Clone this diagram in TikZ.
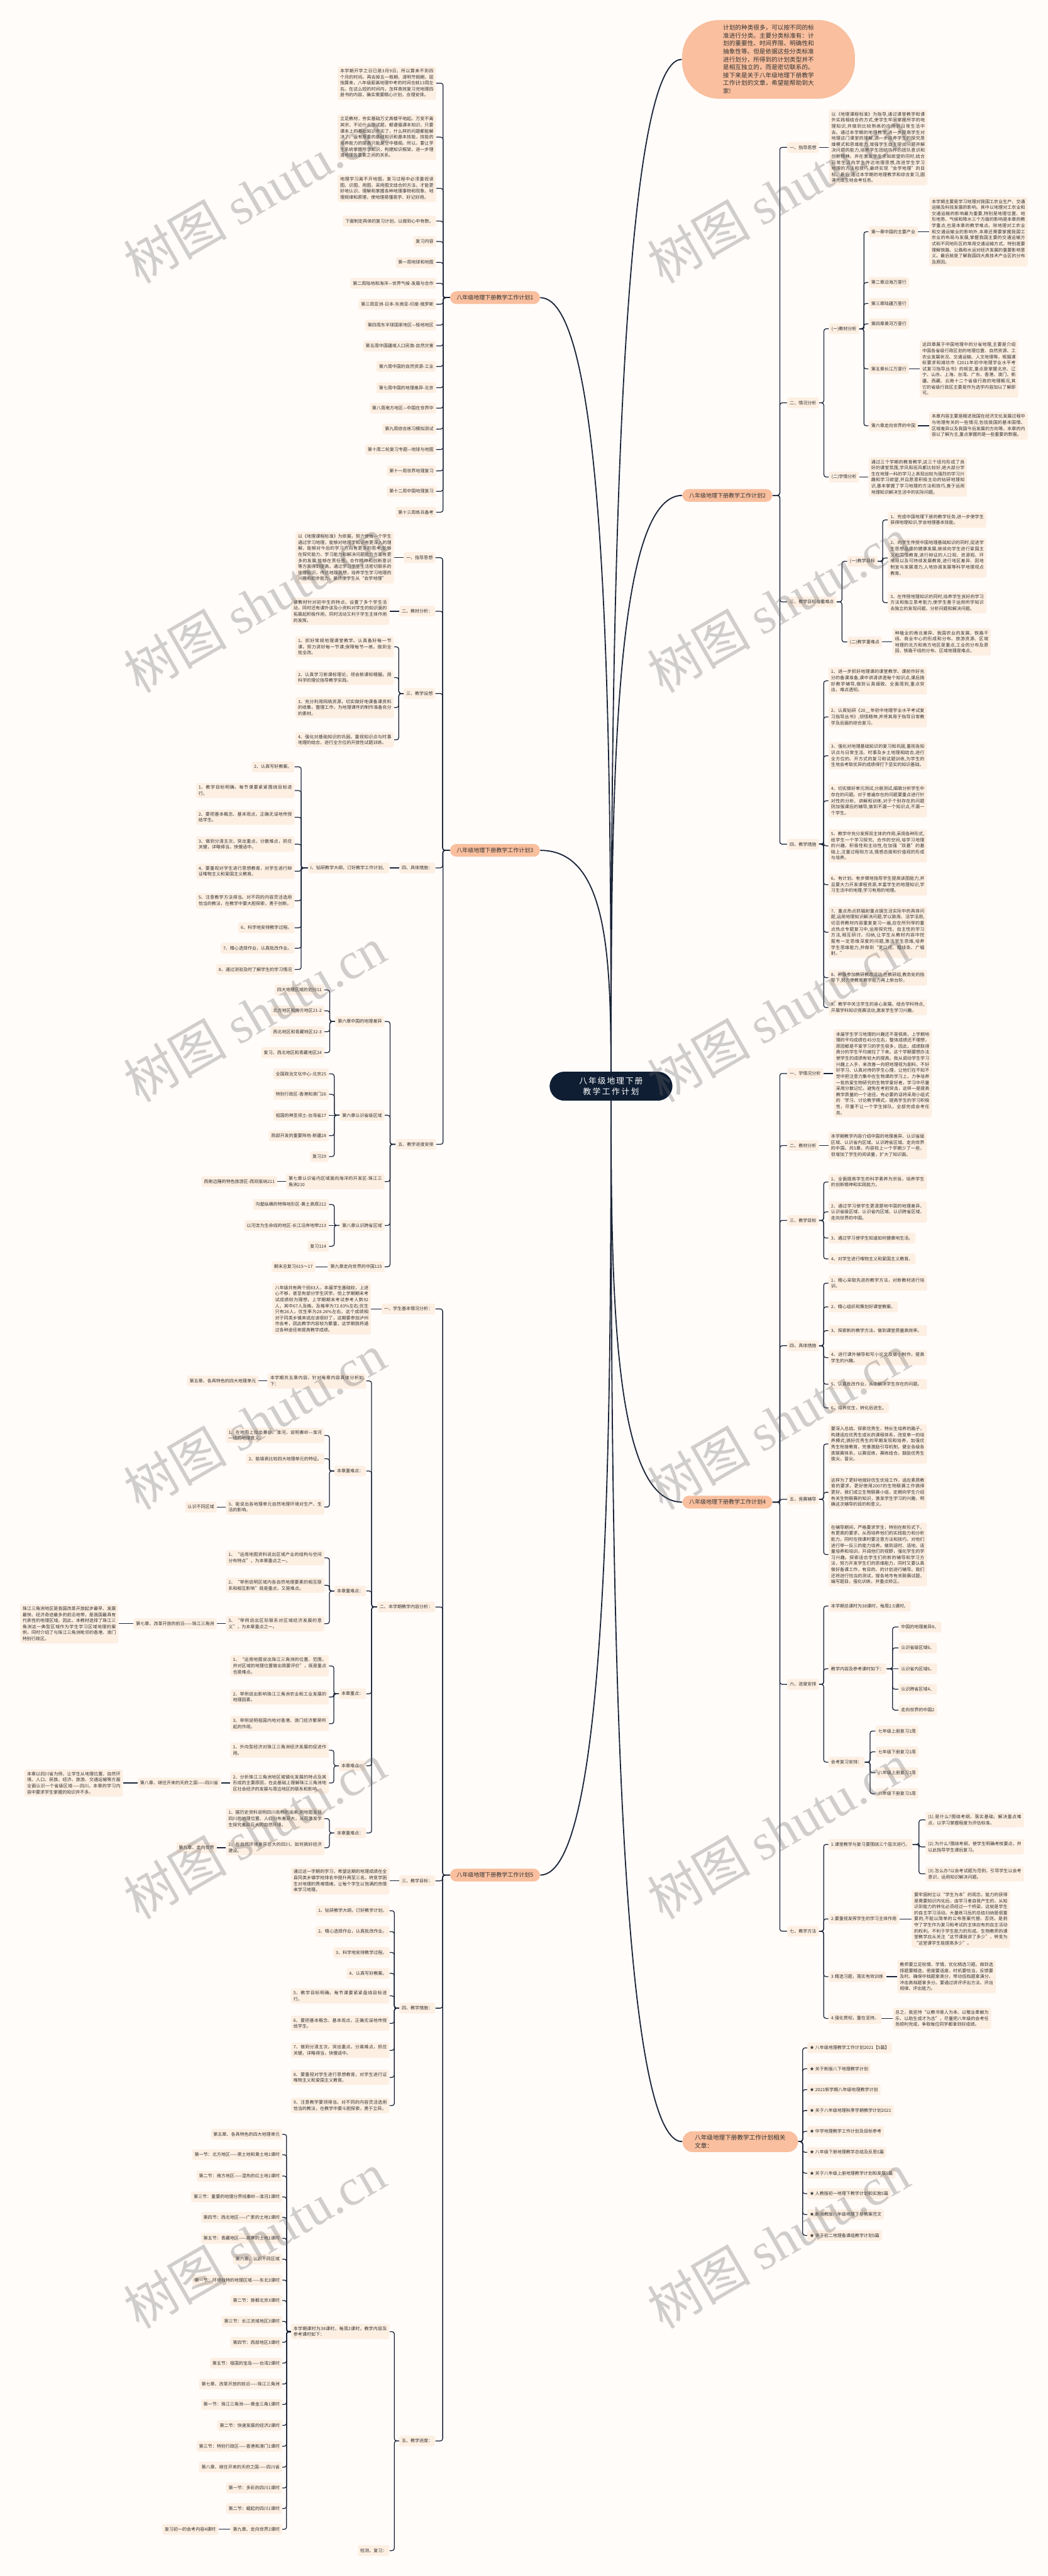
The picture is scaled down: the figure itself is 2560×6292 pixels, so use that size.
\documentclass[tikz,border=0pt]{standalone}
\usepackage{fontspec}
\setmainfont{Noto Sans CJK SC}
\newfontfamily\wmlatin{Liberation Serif}
\usetikzlibrary{calc}
\usetikzlibrary{backgrounds}
\XeTeXlinebreaklocale "zh"
\XeTeXlinebreakskip = 0pt plus 1pt
\definecolor{bgc}{HTML}{FFFCFA}
\definecolor{leafc}{HTML}{FDEFE2}
\definecolor{mainc}{HTML}{F9BF9E}
\definecolor{hubc}{HTML}{0F1E33}
\definecolor{linec}{HTML}{1B2437}
\definecolor{txtc}{HTML}{333333}
\tikzset{
    leaf/.style = {rectangle, rounded corners=1.2pt, fill=leafc, text=txtc, inner xsep=0.06cm, inner ysep=0.06cm, minimum height=0.26cm, font=\fontsize{3.07pt}{4.2pt}\selectfont},
    para/.style = {leaf, text width=2.28cm, align=justify},
    plan/.style = {rectangle, rounded corners=0.15cm, fill=mainc, text=txtc, minimum height=0.31cm, inner xsep=0.16cm, inner ysep=0.06cm, font=\fontsize{3.93pt}{5pt}\selectfont},
    rel/.style = {plan, text width=2.22cm, align=left, inner xsep=0.3cm, inner ysep=0.09cm, rounded corners=0.25cm, font=\fontsize{4.18pt}{5.5pt}\selectfont},
    hub/.style = {rectangle, rounded corners=0.36cm, fill=hubc, text=white, text width=2.2cm, align=center, inner xsep=0.4cm, inner ysep=0.13cm, font=\fontsize{5.6pt}{7.54pt}\selectfont},
    intro/.style = {rectangle, rounded corners=0.9cm, fill=mainc, text=txtc, text width=2.22cm, align=justify, minimum width=4.22cm, minimum height=1.92cm, font=\fontsize{4.18pt}{5.49pt}\selectfont},
    link/.style = {draw=linec, line width=0.55pt, rounded corners=1.6pt},
    trunk/.style = {draw=linec, line width=0.8pt},
    wmark/.style = {rotate=30, anchor=south west, inner sep=0pt, text=black!60, text opacity=0.3, font=\fontsize{36pt}{36pt}\selectfont}
}
\newcommand{\linkR}[2]{\draw[link] (#1.east) -| ($(#1.east)!.5!(#2.west)$) |- (#2.west);}
\newcommand{\linkL}[2]{\draw[link] (#1.west) -| ($(#1.west)!.5!(#2.east)$) |- (#2.east);}
\newcommand{\linkRS}[2]{\draw[link] (#1.east) -- (#2.west);}
\newcommand{\linkLS}[2]{\draw[link] (#1.west) -- (#2.east);}

\begin{document}
\begin{tikzpicture}[x=0.01cm, y=-0.01cm]
\useasboundingbox (0,0) rectangle (2560,6292);
\node[hub] at (1493, 2653) (ctr) {八年级地理下册教学工作计划};
\node[intro, anchor=west] at (1666, 145) (intro) {计划的种类很多，可以按不同的标准进行分类。主要分类标准有：计划的重要性、时间界限、明确性和抽象性等。但是依据这些分类标准进行划分，所得到的计划类型并不是相互独立的，而是密切联系的。接下来是关于八年级地理下册教学工作计划的文章，希望能帮助到大家!};
\node[plan, anchor=east] at (1320, 727) (p1) {八年级地理下册教学工作计划1};
\node[plan, anchor=west] at (1667, 1210) (p2) {八年级地理下册教学工作计划2};
\node[plan, anchor=east] at (1320, 2077) (p3) {八年级地理下册教学工作计划3};
\node[plan, anchor=west] at (1667, 3669) (p4) {八年级地理下册教学工作计划4};
\node[plan, anchor=east] at (1320, 4580) (p5) {八年级地理下册教学工作计划5};
\node[rel, anchor=west] at (1667, 5231) (rel) {八年级地理下册教学工作计划相关文章：};
%
% plan 1
\node[para, anchor=east] at (1066, 203) (p1a) {本学期开学之日已是3月9日，所以算来不到四个月的时间。再去掉五一假期、清明节假期，屈指算来，八年级距离地理中考的时间也就13周左右。在这么短的时间内，怎样高效复习完地理四册书的内容，确实需要精心计划，合理安排。};
\node[para, anchor=east] at (1066, 335) (p1b) {立足教材，夯实基础万丈高楼平地起。万变不离其宗，不论什么测试题，都遵循课本知识，只要课本上的基础知识夯实了，什么样的问题都能解决了。没有厚重的基础知识和基本技能，技能的培养能力的提高只能是空中楼阁。所以，要让学生系统掌握所学知识，构建知识框架，进一步理清地理各要素之间的关系。};
\node[para, anchor=east] at (1066, 460) (p1c) {地理学习离不开地图，复习过程中必须重视读图、识图、用图，采用图文结合的方法，才能更好地认识、理解和掌握各种地理事物和现象、地理规律和原理，使地理易懂易学、好记好用。};
\node[leaf, anchor=east] at (1066, 540) (p1d) {下面制定具体的复习计划，以做到心中有数。};
\node[leaf, anchor=east] at (1066, 590) (p1e) {复习内容};
\node[leaf, anchor=east] at (1066, 641) (p1f) {第一周地球和地图};
\node[leaf, anchor=east] at (1066, 692) (p1g) {第二周陆地和海洋—世界气候-发展与合作};
\node[leaf, anchor=east] at (1066, 743) (p1h) {第三周亚洲-日本-东南亚-印度-俄罗斯};
\node[leaf, anchor=east] at (1066, 794) (p1i) {第四周东半球国家地区—极地地区};
\node[leaf, anchor=east] at (1066, 845) (p1j) {第五周中国疆域人口民族-自然灾害};
\node[leaf, anchor=east] at (1066, 895) (p1k) {第六周中国的自然资源-工业};
\node[leaf, anchor=east] at (1066, 947) (p1l) {第七周中国的地理差异-北京};
\node[leaf, anchor=east] at (1066, 997) (p1m) {第八周南方地区—中国在世界中};
\node[leaf, anchor=east] at (1066, 1048) (p1n) {第九周综合练习模拟测试};
\node[leaf, anchor=east] at (1066, 1098) (p1o) {第十周二轮复习专题—地球与地图};
\node[leaf, anchor=east] at (1066, 1150) (p1p) {第十一周世界地理复习};
\node[leaf, anchor=east] at (1066, 1200) (p1q) {第十二周中国地理复习};
\node[leaf, anchor=east] at (1066, 1251) (p1r) {第十三周练兵备考};
%
% plan 2
\node[leaf, anchor=west] at (1923, 360) (p2a) {一、指导思想};
\node[para, anchor=west] at (2025, 360) (p2a1) {以《地理课程标准》为指导,通过课堂教学和课外实践相结合的方式,使学生牢固掌握所学的地理知识,并做到比较熟练的应用到日常生活中去。通过本学期的地理教学,进一步提高学生对地理这门课堂的理解,进一步培养学生的探究思维模式和思维能力,增强学生自主提出问题并解决问题的能力,培养学生团结协作的团队意识和创新精神。并在激发学生求知欲望的同时,结合日常生活向学生传达地理思想,改进学生学习地理的方法和技巧,最终实现“会学地理”的目标。最后,通过本学期的地理教学和综合复习,圆满完成生地会考任务。};
\node[leaf, anchor=west] at (1923, 984) (p2b) {二、情况分析};
\node[leaf, anchor=west] at (2025, 803) (p2b1) {(一)教材分析};
\node[leaf, anchor=west] at (2122, 566) (p2b1a) {第一章中国的主要产业};
\node[para, anchor=west] at (2270, 566) (p2b1a1) {本学期主要是学习地理对我国工农业生产、交通运输及科技发展的影响。其中以地理对工农业和交通运输的影响最为重要,特别是地理位置、地形地势、气候和降水三个方面的影响是本章的教学重点,也是本章的教学难点。除地理对工农业和交通运输业的影响外,本章还需要掌握我国工农业的布局与发展,掌握我国主要的交通运输方式和不同地形区的常用交通运输方式。特别是要理解铁路、公路和水运对经济发展的重要影响意义。最后就是了解我国四大高技术产业区的分布及原因。};
\node[leaf, anchor=west] at (2122, 690) (p2b1b) {第二章沿海万里行};
\node[leaf, anchor=west] at (2122, 741) (p2b1c) {第三章陆疆万里行};
\node[leaf, anchor=west] at (2122, 791) (p2b1d) {第四章黄河万里行};
\node[leaf, anchor=west] at (2122, 901) (p2b1e) {第五章长江万里行};
\node[para, anchor=west] at (2247, 901) (p2b1e1) {这四章属于中国地理中的分省地理,主要是介绍中国各省级行政区划的地理位置、自然资源、工农业发展状况、交通运输、人文地理等。根据课标要求和潍坊市《2011年初中地理学业水平考试复习指导丛书》的规定,重点是掌握北京、辽宁、山东、上海、台湾、广东、香港、澳门、新疆、西藏、云南十二个省级行政的地理概况,其它的省级行政区主要是作为选学内容加以了解即可。};
\node[leaf, anchor=west] at (2122, 1040) (p2b1f) {第六章走向世界的中国};
\node[para, anchor=west] at (2270, 1040) (p2b1f1) {本章内容主要是概述我国在经济文化发展过程中与地理有关的一些情况,包括我国的基本国情、区域差异以及我国今后发展的方向等。本章的内容以了解为主,重点掌握的是一些重要的数据。};
\node[leaf, anchor=west] at (2025, 1165) (p2b2) {(二)学情分析};
\node[para, anchor=west] at (2122, 1165) (p2b21) {通过三个学期的教育教学,这三个班均形成了良好的课堂氛围,学风和班风都比较好,绝大部分学生在地理一科的学习上表现出较为强烈的学习兴趣和学习欲望,并且愿意积极主动的钻研地理知识,基本掌握了学习地理的方法和技巧,善于运用地理知识解决生活中的实际问题。};
\node[leaf, anchor=west] at (1923, 1470) (p2c) {三、教学目标与重难点};
\node[leaf, anchor=west] at (2070, 1371) (p2c1) {(一)教学目标};
\node[para, anchor=west] at (2169, 1270) (p2c1a) {1、完成中国地理下册的教学任务,进一步使学生获得地理知识,学会地理基本技能。};
\node[para, anchor=west] at (2169, 1363) (p2c1b) {2、向学生传授中国地理基础知识的同时,促进学生思想品德的健康发展,继续向学生进行爱国主义和国情教育,进行辩证的人口观、资源观、环境观以及可持续发展教育,进行地区差异、因地制宜与发展潜力,人地协调发展等科学地理观点教育。};
\node[para, anchor=west] at (2169, 1472) (p2c1c) {3、在传授地理知识的同时,培养学生良好的学习方法和独立思考能力,使学生善于运用所学知识去独立的发现问题、分析问题和解决问题。};
\node[leaf, anchor=west] at (2070, 1568) (p2c2) {(二)教学重难点};
\node[para, anchor=west] at (2180, 1568) (p2c21) {种植业的南北差异、我国农业的发展、铁路干线、商业中心的形成和分布、旅游资源、区域地理的北方和南方地区是重点,工业的分布及原因、铁路干线的分布、区域地理是难点。};
\node[leaf, anchor=west] at (1923, 2062) (p2d) {四、教学措施};
\node[para, anchor=west] at (2024, 1663) (p2d1) {1、进一步抓好地理课的课堂教学。课前作好充分的备课准备,课中讲清讲透每个知识点,课后搞好教学辅导,做到认真细致、全面周到,重点突出、难点透彻。};
\node[para, anchor=west] at (2024, 1751) (p2d2) {2、认真钻研《20\_\_年初中地理学业水平考试复习指导丛书》,领悟精神,并将其用于指导日常教学及后面的综合复习。};
\node[para, anchor=west] at (2024, 1846) (p2d3) {3、强化对地理基础知识的复习和巩固,重视各知识点与日常生活、时事及乡土地理相结合,进行全方位的、开方式的复习和试题训练,为学生的生地会考取优异的成绩得打下坚实的知识基础。};
\node[para, anchor=west] at (2024, 1956) (p2d4) {4、切实搞好单元测试,分册测试,细致分析学生中存在的问题。对于普遍存在的问题要重点进行针对性的分析、讲解和训练,对于个别存在的问题则加强课后的辅导,做到不漏一个知识点,不漏一个学生。};
\node[para, anchor=west] at (2024, 2066) (p2d5) {5、教学中充分发挥双主体的作用,采用各种形式,给学生一个学习探究、合作的空间,培学习地理的兴趣、积极性和主动性,在加强“双基”的基础上,注重过程和方法,情感态度和价值观的形成与培养。};
\node[para, anchor=west] at (2024, 2161) (p2d6) {6、有计划、有步骤地指导学生提高读图能力,并且要大力开发课程资源,丰富学生的地理知识,学习生活中的地理,学习有用的地理。};
\node[para, anchor=west] at (2024, 2277) (p2d7) {7、重点热点抓辐射重点据生活实际中的具体问题,运用地理知识解决问题,学以致用、活学活用,切忌将教材内容重复复习一遍,应在所列举的重点热点专题复习中,运用探究性、自主性的学习方法,相互研讨、归纳,让学生从教材内容中挖掘有一定思维深度的问题,激活学生思维,培养学生思维能力,并做到“宽口径、粗线条、广辐射。”};
\node[para, anchor=west] at (2024, 2388) (p2d8) {8、积极参加教研教改活动,在教研组,教务处的指导下,努力使教育教学能力再上新台阶。};
\node[para, anchor=west] at (2024, 2461) (p2d9) {9、教学中关注学生的身心发展。结合学科特点,开展学科知识竞赛活动,激发学生学习兴趣。};
%
% plan 3
\node[leaf, anchor=east] at (1064, 1362) (p3a) {一、指导思想};
\node[para, anchor=east] at (963, 1362) (p3a1) {以《地理课程标准》为依据，努力使每一个学生通过学习地理，能够对地理学知识有更深入的理解，能够对今后的学习方向有更多的思考;能够在探究能力、学习能力和解决问题能力方面有更多的发展;能够在责任感、合作精神和创新意识等方面得到提高。通过学习学生生活密切联系的地理知识，传达地理思想，培养学生学习地理的兴趣和初步能力，最终使学生从“会学地理”};
\node[leaf, anchor=east] at (1064, 1493) (p3b) {二、教材分析：};
\node[para, anchor=east] at (952, 1493) (p3b1) {该教材针对初中生的特点，设置了多个学生活动，同时还有课外读及小资料对学生的知识面的拓展起积极作用，同时活动又利于学生主体作用的发挥。};
\node[leaf, anchor=east] at (1064, 1694) (p3c) {三、教学设想};
\node[para, anchor=east] at (963, 1580) (p3c1) {1、抓好常规地理课堂教学。认真备好每一节课，努力讲好每一节课;保障每节一练，做到全批全改。};
\node[para, anchor=east] at (963, 1655) (p3c2) {2、认真学习新课标理论，领会新课标精髓，用科学的理论指导教学实践。};
\node[para, anchor=east] at (963, 1728) (p3c3) {3、充分利用网络资源，切实做好地课备课资料的收集，整理工作，为地理课件的制作准备充分的素材。};
\node[para, anchor=east] at (963, 1807) (p3c4) {4、强化对基础知识的巩固，重视知识点与时事地理的结合，进行全方位的开放性试题训练。};
\node[leaf, anchor=east] at (1064, 2120) (p3d) {四、具体措施：};
\node[leaf, anchor=east] at (952, 2120) (p3d1) {I、钻研教学大纲，订好教学工作计划。};
\node[leaf, anchor=east] at (720, 1873) (p3d1a) {2、认真写好教案。};
\node[para, anchor=east] at (720, 1931) (p3d1b) {1、教学目标明确，每节课要紧紧围绕目标进行。};
\node[para, anchor=east] at (720, 1996) (p3d1c) {2、要把基本概念、基本观点，正确无误地传授给学生。};
\node[para, anchor=east] at (720, 2062) (p3d1d) {3、做到分清主次，突出重点，分散难点，抓住关键，详略得当，快慢适中。};
\node[para, anchor=east] at (720, 2128) (p3d1e) {4、要重视对学生进行思想教育，对学生进行辩证唯物主义和爱国主义教育。};
\node[para, anchor=east] at (720, 2200) (p3d1f) {5、注意教学方法得当。对不同的内容灵活选用恰当的教法，在教学中要大胆探索，勇于创新。};
\node[leaf, anchor=east] at (720, 2266) (p3d1g) {6、科学地安排教学过程。};
\node[leaf, anchor=east] at (720, 2316) (p3d1h) {7、精心选择作业，认真批改作业。};
\node[leaf, anchor=east] at (720, 2368) (p3d1i) {8、通过测验及时了解学生的学习情况};
\node[leaf, anchor=east] at (1066, 2795) (p3e) {五、教学进度安排};
\node[leaf, anchor=east] at (940, 2495) (p3e1) {第六章中国的地理差异};
\node[leaf, anchor=east] at (793, 2418) (p3e1a) {四大地理区域的划分11};
\node[leaf, anchor=east] at (793, 2469) (p3e1b) {北方地区和南方地区21-2};
\node[leaf, anchor=east] at (793, 2520) (p3e1c) {西北地区和青藏地区32-3};
\node[leaf, anchor=east] at (793, 2571) (p3e1d) {复习、西北地区和青藏地区24};
\node[leaf, anchor=east] at (940, 2724) (p3e2) {第六章认识省级区域};
\node[leaf, anchor=east] at (804, 2623) (p3e2a) {全国政治文化中心-北京25};
\node[leaf, anchor=east] at (804, 2673) (p3e2b) {特别行政区-香港和澳门26};
\node[leaf, anchor=east] at (804, 2724) (p3e2c) {祖国的神圣领土-台湾省27};
\node[leaf, anchor=east] at (804, 2774) (p3e2d) {西部开发的重要阵地-新疆28};
\node[leaf, anchor=east] at (804, 2825) (p3e2e) {复习29};
\node[para, anchor=east] at (940, 2886) (p3e3) {第七章认识省内区域面向海洋的开发区-珠江三角洲210};
\node[leaf, anchor=east] at (678, 2886) (p3e3a) {西南边陲的特色旅游区-西双版纳211};
\node[leaf, anchor=east] at (940, 2993) (p3e4) {第八章认识跨省区域};
\node[leaf, anchor=east] at (804, 2942) (p3e4a) {沟壑纵横的特殊地形区-黄土高原212};
\node[leaf, anchor=east] at (804, 2993) (p3e4b) {以河流为生命线的地区-长江沿岸地带213};
\node[leaf, anchor=east] at (804, 3044) (p3e4c) {复习114};
\node[leaf, anchor=east] at (940, 3094) (p3e5) {第九章走向世界的中国115};
\node[leaf, anchor=east] at (771, 3094) (p3e5a) {期末总复习615～17};
%
% plan 4
\node[leaf, anchor=west] at (1923, 2622) (p4a) {一、学情况分析};
\node[para, anchor=west] at (2036, 2622) (p4a1) {本届学生学习地理的兴趣还不是很高，上学期地理的平均成绩在45分左右，整体成绩还不理想，原因都是不爱学习的学生很多，因此，成绩取得高分的学生平均被拉了下来。这个学期要想办法使学生的成绩有较大的提高。我从调动学生学习兴趣上入手，来改善一向把地理视为副科，不好好学习、认真对待的学生心理，让他们在不知不觉中把注意力集中在生物课的学习上，力争培养一批热爱生物研究的生物学爱好者，学习中尽量采用分散记忆，避免在考前突击，这样一是提高教学质量的一个途径。有必要的话将采用小组式的‘学习、讨论教学模式，提高学生的学习积极性，尽量不让一个学生掉队，全部完成会考任务。};
\node[leaf, anchor=west] at (1923, 2798) (p4b) {二、教材分析};
\node[para, anchor=west] at (2024, 2798) (p4b1) {本学期教学内容介绍中国的地理差异、认识省级区域、认识省内区域、认识跨省区域、走向世界的中国。共5章，内容较上一个学期少了一些，但增加了学生的阅读量，扩大了知识面。};
\node[leaf, anchor=west] at (1923, 2981) (p4c) {三、教学目标};
\node[para, anchor=west] at (2024, 2887) (p4c1) {1、全面提高学生的科学素养为宗旨，培养学生的创新精神和实践能力。};
\node[para, anchor=west] at (2024, 2960) (p4c2) {2、通过学习使学生更清楚地中国的地理差异、认识省级区域、认识省内区域、认识跨省区域、走向世界的中国。};
\node[leaf, anchor=west] at (2024, 3024) (p4c3) {3、通过学习使学生知道如何健康地生活。};
\node[leaf, anchor=west] at (2024, 3075) (p4c4) {4、对学生进行唯物主义和爱国主义教育。};
\node[leaf, anchor=west] at (1923, 3287) (p4d) {四、具体措施};
\node[para, anchor=west] at (2024, 3134) (p4d1) {1、精心采取先进的教学方法，对新教材进行培训。};
\node[leaf, anchor=west] at (2024, 3192) (p4d2) {2、精心组织和策划好课堂教案。};
\node[para, anchor=west] at (2024, 3250) (p4d3) {3、探索新的教学方法，做到课堂质量高效率。};
\node[para, anchor=west] at (2024, 3316) (p4d4) {4、进行课外辅导和写小论文及做小制作，提高学生的兴趣。};
\node[para, anchor=west] at (2024, 3381) (p4d5) {5、认真批改作业，从中解决学生存在的问题。};
\node[leaf, anchor=west] at (2024, 3439) (p4d6) {6、培养优生，转化后进生。};
\node[leaf, anchor=west] at (1923, 3662) (p4e) {五、竞赛辅导};
\node[para, anchor=west] at (2024, 3527) (p4e1) {要深入总结、探索优秀生、特长生培养的路子，构建适应优秀生成长的课程体系，改变单一的培养模式;搞好优秀生的早期发现和培养，加强优秀生衔接教育，完善激励引导机制，健全各级各类联赛体系，以赛促练，赛练结合，鼓励优秀生拔尖、冒尖。};
\node[para, anchor=west] at (2024, 3645) (p4e2) {这样为了更好地做好优生优培工作，适应素质教育的要求，更好使用2007的生物联赛工作搞得更好。我们成立生物联赛小组，定期向学生介绍有关生物联赛的知识，激发学生学习的兴趣，明确这次辅导的目的和意义。};
\node[para, anchor=west] at (2024, 3797) (p4e3) {在辅导期间，严格要求学生，特别在新形式下，有更高的要求，从而培养他们的实践能力和分析能力。同时在授课时要注意方法和技巧，对他们进行举一反三的能力培养。做到适时、适地、适量培养和培训，开阔他们的视野，强化学生的学习兴趣。探索适合学生们的新的辅导和学习方法，努力开发学生们的思维能力，同时又要认真做好备课工作，有目的、的计划进行辅导。我们还将进行恰当的测试，搜各地市有关联赛试题，编写题目，强化训练，并重点矫正。};
\node[leaf, anchor=west] at (1923, 4114) (p4f) {六、进度安排};
\node[leaf, anchor=west] at (2024, 3923) (p4f1) {本学期总课时为38课时，每周2.5课时。};
\node[leaf, anchor=west] at (2024, 4076) (p4f2) {教学内容及参考课时如下：};
\node[leaf, anchor=west] at (2195, 3974) (p4f2a) {中国的地理差异8、};
\node[leaf, anchor=west] at (2195, 4025) (p4f2b) {认识省级区域6、};
\node[leaf, anchor=west] at (2195, 4076) (p4f2c) {认识省内区域6、};
\node[leaf, anchor=west] at (2195, 4126) (p4f2d) {认识跨省区域4、};
\node[leaf, anchor=west] at (2195, 4177) (p4f2e) {走向世界的中国2};
\node[leaf, anchor=west] at (2024, 4304) (p4f3) {会考复习安排：};
\node[leaf, anchor=west] at (2139, 4228) (p4f3a) {七年级上册复习1周};
\node[leaf, anchor=west] at (2139, 4279) (p4f3b) {七年级下册复习1周};
\node[leaf, anchor=west] at (2139, 4330) (p4f3c) {八年级上册复习1周};
\node[leaf, anchor=west] at (2139, 4381) (p4f3d) {八年级下册复习1周};
\node[leaf, anchor=west] at (1923, 4717) (p4g) {七、教学方法};
\node[leaf, anchor=west] at (2024, 4505) (p4g1) {1.课堂教学与复习要围绕三个层次进行。};
\node[para, anchor=west] at (2261, 4445) (p4g1a) {(1).是什么?围绕考纲，落实基础，解决重点难点，以学习掌握程度为评估标准。};
\node[para, anchor=west] at (2261, 4511) (p4g1b) {(2).为什么?围绕考纲，使学生明确考核要点，并以此指导学生课后复习。};
\node[para, anchor=west] at (2261, 4577) (p4g1c) {(3).怎么办?以会考试题为范例，引导学生以会考意识，运用知识解决问题。};
\node[leaf, anchor=west] at (2024, 4687) (p4g2) {2.要重视发挥学生的学习主体作用};
\node[para, anchor=west] at (2227, 4687) (p4g21) {要牢固树立以“学生为本”的观念，能力的获得是需要知识内化后，由学习者自我产生的，从知识到能力的转化必须经过一个桥梁，这就是学生的自主学习活动。大量练习后的总结归纳是很重要的,不能以简单的公布答案代替。否则，是剥夺了学生作为复习和考试的主体应有的自主活动的权利。不利于学生能力的形成。生物教师的课堂教学应从关注“这节课我讲了多少”，转变为“这堂课学生能提高多少”。};
\node[leaf, anchor=west] at (2024, 4828) (p4g3) {3.精选习题，落实有效训练};
\node[para, anchor=west] at (2192, 4828) (p4g31) {教师要立足校情、学情，优化精选习题。做到选择题要精选，密度要适度，时机要恰当，反馈要及时。确保中档题拿高分，带动低档题拿满分，冲击高档题拿多分。要通过讲评评出方法、评出规律、评出能力。};
\node[leaf, anchor=west] at (2024, 4930) (p4g4) {4.强化贯彻，重在坚持。};
\node[para, anchor=west] at (2181, 4930) (p4g41) {总之，我坚持“以教书育人为本、以敬业奉献为乐、以助生成才为志”，尽量把八年级的会考任务顺利完成，争取每位同学都拿到好成绩。};
%
% plan 5
\node[leaf, anchor=east] at (1064, 3197) (p5a) {一、学生基本情况分析：};
\node[para, anchor=east] at (907, 3197) (p5a1) {八年级共有两个班83人，本届学生基础较，上进心不够，甚至有部分学生厌学。但上学期期末考试成绩较为理想，上学期期末考试参考人数92人，其中67人及格，及格率为72.83\%左右;优生只有26人，优生率为28.26\%左右，这个成绩相对于同类乡镇来说应该很好了，这期要参加泸州市会考，因此教学内容较为繁重，这学期我将通过各种途径来提高教学成绩。};
\node[leaf, anchor=east] at (1064, 3925) (p5b) {二、本学期教学内容分析：};
\node[para, anchor=east] at (895, 3373) (p5b1) {本学期共五章内容，针对每章内容具体分析如下：};
\node[leaf, anchor=east] at (632, 3373) (p5b1a) {第五章、各具特色的四大地理单元};
\node[leaf, anchor=east] at (895, 3593) (p5b2) {本章重难点：};
\node[para, anchor=east] at (793, 3506) (p5b2a) {1、在地图上找出秦岭、淮河，说明秦岭—淮河一线的地理意义。};
\node[leaf, anchor=east] at (793, 3563) (p5b2b) {2、能填表比较四大地理单元的特征。};
\node[para, anchor=east] at (793, 3681) (p5b2c) {3、能说出各地理单元自然地理环境对生产、生活的影响。};
\node[leaf, anchor=east] at (530, 3681) (p5b2c1) {认识不同区域};
\node[leaf, anchor=east] at (895, 3886) (p5b3) {本章重难点：};
\node[para, anchor=east] at (793, 3805) (p5b3a) {1、“运用地图资料说出区域产业的结构与空间分布特点”，为本章重点之一。};
\node[para, anchor=east] at (793, 3872) (p5b3b) {2、“举例说明区域内各自然地理要素的相互联系和相互影响”既是重点，又是难点。};
\node[para, anchor=east] at (793, 3966) (p5b3c) {3、“举例说出区际联系对区域经济发展的意义”，为本章重点之一。};
\node[leaf, anchor=east] at (530, 3966) (p5b3c1) {第七章、改革开放的前沿——珠江三角洲};
\node[para, anchor=east] at (290, 3966) (p5b3c1a) {珠江三角洲地区是我国改革开放起步最早、发展最快、经济奇迹最多的前沿地带，是我国最具有代表性的地理区域。因此，本教材选择了珠江三角洲这一典型区域作为学生学习区域地理的案例，同时介绍了与珠江三角洲毗邻的香港、澳门特别行政区。};
\node[leaf, anchor=east] at (895, 4137) (p5b4) {本章重点：};
\node[para, anchor=east] at (804, 4069) (p5b4a) {1、“运用地图说出珠江三角洲的位置、范围，并对区域的地理位置做出简要评价”，既是重点也是难点。};
\node[para, anchor=east] at (804, 4145) (p5b4b) {2、举例说出影响珠江三角洲农业和工业发展的地理因素。};
\node[para, anchor=east] at (804, 4210) (p5b4c) {3、举例说明祖国内地对香港、澳门经济繁荣所起的作用。};
\node[leaf, anchor=east] at (895, 4313) (p5b5) {本章难点：};
\node[para, anchor=east] at (804, 4275) (p5b5a) {1、外向型经济对珠江三角洲经济发展的促进作用。};
\node[para, anchor=east] at (804, 4355) (p5b5b) {2、分析珠江三角洲地区城镇化发展的特点及其形成的主要原因，在此基础上理解珠江三角洲地区社会经济的发展与周边地区的联系和影响。};
\node[leaf, anchor=east] at (540, 4355) (p5b5b1) {第八章、继往开来的天府之国——四川省};
\node[para, anchor=east] at (301, 4355) (p5b5b1a) {本章以四川省为例，让学生从地理位置、自然环境、人口、民族、经济、旅游、交通运输等方面全面认识一个省级区域——四川。本章的学习内容中要求学生掌握的知识并不多。};
\node[leaf, anchor=east] at (895, 4477) (p5b6) {本章重难点：};
\node[para, anchor=east] at (793, 4442) (p5b6a) {1、据历史资料说明四川名称的由来;用地图呈现四川的地理位置、人口分布差异大，从而激发学生探究差异巨大的自然环境。};
\node[para, anchor=east] at (793, 4513) (p5b6b) {2、在自然环境差异巨大的四川，如何搞好经济建设。};
\node[leaf, anchor=east] at (530, 4513) (p5b6b1) {第九章、走向世界};
\node[leaf, anchor=east] at (1064, 4594) (p5c) {三、教学目标：};
\node[para, anchor=east] at (952, 4594) (p5c1) {通过这一学期的学习，希望这期的地理成绩在全县同类乡镇学校排名中提升两至三名。转变学困生对地理的畏难情绪，让每个学生以饱满的热情来学习地理。};
\node[leaf, anchor=east] at (1064, 4905) (p5d) {四、教学措施：};
\node[leaf, anchor=east] at (952, 4667) (p5d1) {1、钻研教学大纲，订好教学计划。};
\node[leaf, anchor=east] at (952, 4718) (p5d2) {2、精心选择作业，认真批改作业。};
\node[leaf, anchor=east] at (952, 4769) (p5d3) {3、科学地安排教学过程。};
\node[leaf, anchor=east] at (952, 4820) (p5d4) {4、认真写好教案。};
\node[para, anchor=east] at (952, 4875) (p5d5) {5、教学目标明确，每节课要紧紧盘绕目标进行。};
\node[para, anchor=east] at (952, 4942) (p5d6) {6、要把基本概念、基本观点，正确无误地传授给学生。};
\node[para, anchor=east] at (952, 5008) (p5d7) {7、做到分清主次，突出重点，分离难点，抓住关键，详略得当，快慢适中。};
\node[para, anchor=east] at (952, 5074) (p5d8) {8、要重视对学生进行思想教育，对学生进行证唯物主义和爱国主义教育。};
\node[para, anchor=east] at (952, 5143) (p5d9) {9、注意教学要领得当。对不同的内容灵活选用恰当的教法，在教学中要斗胆探索，勇于立异。};
\node[leaf, anchor=east] at (1064, 5962) (p5e) {五、教学进度：};
\node[para, anchor=east] at (952, 5695) (p5e1) {本学期课时为38课时，每周2课时，教学内容及参考课时如下：};
\node[leaf, anchor=east] at (690, 5213) (p5e1a) {第五章、各具特色的四大地理单元};
\node[leaf, anchor=east] at (690, 5263) (p5e1b) {第一节：北方地区——黑土地和黄土地1课时};
\node[leaf, anchor=east] at (690, 5315) (p5e1c) {第二节：南方地区——湿热的红土地1课时};
\node[leaf, anchor=east] at (690, 5366) (p5e1d) {第三节：重要的地理分界线秦岭—淮河1课时};
\node[leaf, anchor=east] at (690, 5416) (p5e1e) {第四节：西北地区——广袤的土地1课时};
\node[leaf, anchor=east] at (690, 5467) (p5e1f) {第五节：青藏地区——高寒的土地1课时};
\node[leaf, anchor=east] at (690, 5518) (p5e1g) {第六章、认识不同区域};
\node[leaf, anchor=east] at (690, 5569) (p5e1h) {第一节：环境独特的地理区域——东北3课时};
\node[leaf, anchor=east] at (690, 5619) (p5e1i) {第二节：首都北京3课时};
\node[leaf, anchor=east] at (690, 5670) (p5e1j) {第三节：长江流域地区3课时};
\node[leaf, anchor=east] at (690, 5721) (p5e1k) {第四节：西部地区3课时};
\node[leaf, anchor=east] at (690, 5772) (p5e1l) {第五节：祖国的宝岛——台湾2课时};
\node[leaf, anchor=east] at (690, 5823) (p5e1m) {第七章、改革开放的前沿——珠江三角洲};
\node[leaf, anchor=east] at (690, 5873) (p5e1n) {第一节：珠江三角洲——黄金三角1课时};
\node[leaf, anchor=east] at (690, 5924) (p5e1o) {第二节：快速发展的经济2课时};
\node[leaf, anchor=east] at (690, 5975) (p5e1p) {第三节：特别行政区——香港和澳门1课时};
\node[leaf, anchor=east] at (690, 6026) (p5e1q) {第八章、继往开来的天府之国——四川省};
\node[leaf, anchor=east] at (690, 6077) (p5e1r) {第一节：多彩的四川1课时};
\node[leaf, anchor=east] at (690, 6127) (p5e1s) {第二节：崛起的四川1课时};
\node[leaf, anchor=east] at (690, 6178) (p5e1t) {第九章、走向世界2课时};
\node[leaf, anchor=east] at (534, 6178) (p5e1t1) {复习初一的会考内容4课时};
\node[leaf, anchor=east] at (952, 6230) (p5e2) {检测、复习：};
%
% related articles
\node[leaf, anchor=west] at (1972, 5002) (rel1) {★ 八年级地理教学工作计划2021【5篇】};
\node[leaf, anchor=west] at (1972, 5053) (rel2) {★ 关于新版八下地理教学计划};
\node[leaf, anchor=west] at (1972, 5104) (rel3) {★ 2021新学期八年级地理教学计划};
\node[leaf, anchor=west] at (1972, 5155) (rel4) {★ 关于八年级地理秋季学期教学计划2021};
\node[leaf, anchor=west] at (1972, 5206) (rel5) {★ 中学地理教学工作计划及目标参考};
\node[leaf, anchor=west] at (1972, 5257) (rel6) {★ 八年级下册地理教学总结及反思5篇};
\node[leaf, anchor=west] at (1972, 5308) (rel7) {★ 关于八年级上册地理教学计划和发展5篇};
\node[leaf, anchor=west] at (1972, 5358) (rel8) {★ 人教版初一地理下教学计划和实施5篇};
\node[leaf, anchor=west] at (1972, 5409) (rel9) {★ 新湘教版八年级地理下册教案范文};
\node[leaf, anchor=west] at (1972, 5460) (rel10) {★ 关于初二地理备课组教学计划5篇};
%
\begin{pgfonlayer}{background}
\fill[bgc] (0,0) rectangle (2560,6292);
\draw[trunk] (ctr.center) .. controls +(0,-800) and +(-170,0) .. (intro.west);
\draw[trunk] (ctr.center) .. controls +(0,-800) and +(170,0) .. (p1.east);
\draw[trunk] (ctr.center) .. controls +(0,-700) and +(-170,0) .. (p2.west);
\draw[trunk] (ctr.center) .. controls +(0,-300) and +(170,0) .. (p3.east);
\draw[trunk] (ctr.center) .. controls +(0,500) and +(-170,0) .. (p4.west);
\draw[trunk] (ctr.center) .. controls +(0,800) and +(170,0) .. (p5.east);
\draw[trunk] (ctr.center) .. controls +(0,1000) and +(-170,0) .. (rel.west);
% plan 1
\foreach \c in {p1a,p1b,p1c,p1d,p1e,p1f,p1g,p1h,p1i,p1j,p1k,p1l,p1m,p1n,p1o,p1p,p1q,p1r} {\linkL{p1}{\c}}
% plan 2
\foreach \c in {p2a,p2b,p2c,p2d} {\linkR{p2}{\c}}
\linkRS{p2a}{p2a1}
\foreach \c in {p2b1,p2b2} {\linkR{p2b}{\c}}
\foreach \c in {p2b1a,p2b1b,p2b1c,p2b1d,p2b1e,p2b1f} {\linkR{p2b1}{\c}}
\linkRS{p2b1a}{p2b1a1}
\linkRS{p2b1e}{p2b1e1}
\linkRS{p2b1f}{p2b1f1}
\linkRS{p2b2}{p2b21}
\foreach \c in {p2c1,p2c2} {\linkR{p2c}{\c}}
\foreach \c in {p2c1a,p2c1b,p2c1c} {\linkR{p2c1}{\c}}
\linkRS{p2c2}{p2c21}
\foreach \c in {p2d1,p2d2,p2d3,p2d4,p2d5,p2d6,p2d7,p2d8,p2d9} {\linkR{p2d}{\c}}
% plan 3
\foreach \c in {p3a,p3b,p3c,p3d,p3e} {\linkL{p3}{\c}}
\linkLS{p3a}{p3a1}
\linkLS{p3b}{p3b1}
\foreach \c in {p3c1,p3c2,p3c3,p3c4} {\linkL{p3c}{\c}}
\linkLS{p3d}{p3d1}
\foreach \c in {p3d1a,p3d1b,p3d1c,p3d1d,p3d1e,p3d1f,p3d1g,p3d1h,p3d1i} {\linkL{p3d1}{\c}}
\foreach \c in {p3e1,p3e2,p3e3,p3e4,p3e5} {\linkL{p3e}{\c}}
\foreach \c in {p3e1a,p3e1b,p3e1c,p3e1d} {\linkL{p3e1}{\c}}
\foreach \c in {p3e2a,p3e2b,p3e2d,p3e2e} {\linkL{p3e2}{\c}}
\linkLS{p3e2}{p3e2c}
\linkLS{p3e3}{p3e3a}
\foreach \c in {p3e4a,p3e4c} {\linkL{p3e4}{\c}}
\linkLS{p3e4}{p3e4b}
\linkLS{p3e5}{p3e5a}
% plan 4
\foreach \c in {p4a,p4b,p4c,p4d,p4e,p4f,p4g} {\linkR{p4}{\c}}
\linkRS{p4a}{p4a1}
\linkRS{p4b}{p4b1}
\foreach \c in {p4c1,p4c2,p4c3,p4c4} {\linkR{p4c}{\c}}
\foreach \c in {p4d1,p4d2,p4d3,p4d4,p4d5,p4d6} {\linkR{p4d}{\c}}
\foreach \c in {p4e1,p4e2,p4e3} {\linkR{p4e}{\c}}
\foreach \c in {p4f1,p4f2,p4f3} {\linkR{p4f}{\c}}
\foreach \c in {p4f2a,p4f2b,p4f2d,p4f2e} {\linkR{p4f2}{\c}}
\linkRS{p4f2}{p4f2c}
\foreach \c in {p4f3a,p4f3b,p4f3c,p4f3d} {\linkR{p4f3}{\c}}
\foreach \c in {p4g1,p4g2,p4g3,p4g4} {\linkR{p4g}{\c}}
\foreach \c in {p4g1a,p4g1b,p4g1c} {\linkR{p4g1}{\c}}
\linkRS{p4g2}{p4g21}
\linkRS{p4g3}{p4g31}
\linkRS{p4g4}{p4g41}
% plan 5
\foreach \c in {p5a,p5b,p5c,p5d,p5e} {\linkL{p5}{\c}}
\linkLS{p5a}{p5a1}
\foreach \c in {p5b1,p5b2,p5b3,p5b4,p5b5,p5b6} {\linkL{p5b}{\c}}
\linkLS{p5b1}{p5b1a}
\foreach \c in {p5b2a,p5b2b,p5b2c} {\linkL{p5b2}{\c}}
\linkLS{p5b2c}{p5b2c1}
\foreach \c in {p5b3a,p5b3b,p5b3c} {\linkL{p5b3}{\c}}
\linkLS{p5b3c}{p5b3c1}
\linkLS{p5b3c1}{p5b3c1a}
\foreach \c in {p5b4a,p5b4b,p5b4c} {\linkL{p5b4}{\c}}
\foreach \c in {p5b5a,p5b5b} {\linkL{p5b5}{\c}}
\linkLS{p5b5b}{p5b5b1}
\linkLS{p5b5b1}{p5b5b1a}
\foreach \c in {p5b6a,p5b6b} {\linkL{p5b6}{\c}}
\linkLS{p5b6b}{p5b6b1}
\linkLS{p5c}{p5c1}
\foreach \c in {p5d1,p5d2,p5d3,p5d4,p5d5,p5d6,p5d7,p5d8,p5d9} {\linkL{p5d}{\c}}
\foreach \c in {p5e1,p5e2} {\linkL{p5e}{\c}}
\foreach \c in {p5e1a,p5e1b,p5e1c,p5e1d,p5e1e,p5e1f,p5e1g,p5e1h,p5e1i,p5e1j,p5e1k,p5e1l,p5e1m,p5e1n,p5e1o,p5e1p,p5e1q,p5e1r,p5e1s,p5e1t} {\linkL{p5e1}{\c}}
\linkLS{p5e1t}{p5e1t1}
% related
\foreach \c in {rel1,rel2,rel3,rel4,rel5,rel6,rel7,rel8,rel9,rel10} {\linkR{rel}{\c}}
\end{pgfonlayer}
%
% watermark
\node[wmark] at (345, 705) (wm1) {树图 {\wmlatin shutu.cn}};
\node[wmark] at (1624, 705) (wm2) {树图 {\wmlatin shutu.cn}};
\node[wmark] at (345, 1705) (wm3) {树图 {\wmlatin shutu.cn}};
\node[wmark] at (1624, 1705) (wm4) {树图 {\wmlatin shutu.cn}};
\node[wmark] at (345, 2705) (wm5) {树图 {\wmlatin shutu.cn}};
\node[wmark] at (1624, 2705) (wm6) {树图 {\wmlatin shutu.cn}};
\node[wmark] at (345, 3700) (wm7) {树图 {\wmlatin shutu.cn}};
\node[wmark] at (1624, 3700) (wm8) {树图 {\wmlatin shutu.cn}};
\node[wmark] at (345, 4700) (wm9) {树图 {\wmlatin shutu.cn}};
\node[wmark] at (1624, 4700) (wm10) {树图 {\wmlatin shutu.cn}};
\node[wmark] at (345, 5700) (wm11) {树图 {\wmlatin shutu.cn}};
\node[wmark] at (1624, 5700) (wm12) {树图 {\wmlatin shutu.cn}};
\end{tikzpicture}
\end{document}
